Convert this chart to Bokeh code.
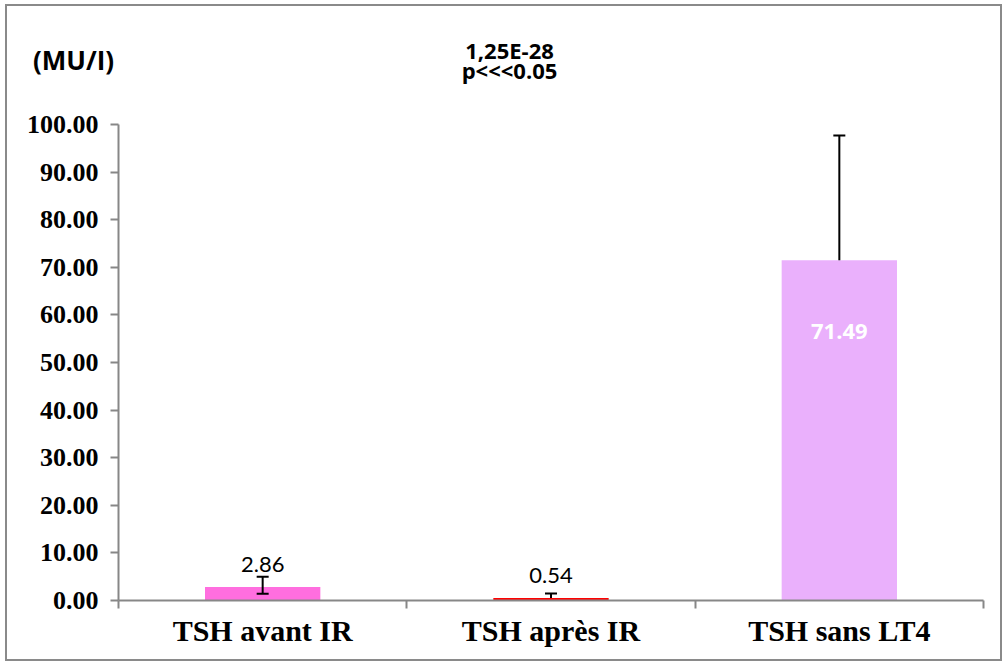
from bokeh.plotting import figure
from bokeh.layouts import column
from bokeh.models import Range1d, FixedTicker, ColumnDataSource, NumeralTickFormatter
from bokeh.core.properties import value
from bokeh.embed import file_html
from bokeh.resources import INLINE

# TSH levels (MU/l) for the three groups
categories = ["TSH avant IR", "TSH après IR", "TSH sans LT4"]
means = [2.86, 0.54, 71.49]
sd_plus = [2.14, 0.91, 26.2]
sd_minus = [1.46, 0.0, 0.0]
bar_colors = ["#FF6EDF", "#FF0000", "#EAB0FC"]
y_ticks = [0, 10, 20, 30, 40, 50, 60, 70, 80, 90, 100]
p_value_text = "1,25E-28"
signif_text = "p<<<0.05"
unit_text = "(MU/I)"

x_pos = [i + 0.5 for i in range(len(categories))]
upper = [m + s for m, s in zip(means, sd_plus)]
lower = [m - s for m, s in zip(means, sd_minus)]

src = ColumnDataSource(dict(
    x=x_pos, top=means, color=bar_colors, upper=upper, lower=lower,
    label=[f"{m:.2f}" for m in means],
))

AXIS_GREY = "#878787"
WIDTH = 993
HEADER_H = 100

# header strip holding the unit and the significance note (pixel coordinates, y down)
head = figure(
    width=WIDTH, height=HEADER_H, x_range=Range1d(0, WIDTH), y_range=Range1d(HEADER_H, 0),
    x_axis_type=None, y_axis_type=None, min_border=0,
    output_backend="svg", toolbar_location=None,
    background_fill_color="white", border_fill_color="white",
)
head.frame_align = False
head.outline_line_color = None
head.grid.visible = False
head.text(x=[66], y=[53], text=[unit_text], text_align="center", text_baseline="alphabetic",
          text_font=value("Open Sans"), text_font_style="bold", text_font_size="26px",
          text_color="black")
head.text(x=[502, 502], y=[43, 63], text=[p_value_text, signif_text], text_align="center",
          text_baseline="alphabetic", text_font=value("Open Sans"), text_font_style="bold",
          text_font_size="22px", text_color="black")

p = figure(
    frame_width=865, frame_height=476,
    min_border_left=111, min_border_right=17, min_border_top=18, min_border_bottom=59,
    x_range=Range1d(0, len(categories)), y_range=Range1d(0, 100),
    output_backend="svg", toolbar_location=None,
    background_fill_color="white", border_fill_color="white",
)
p.frame_align = False
p.outline_line_color = None
p.grid.visible = False

# bars
p.vbar(x="x", top="top", width=0.4, color="color", line_color=None, source=src)

# error bars: stems and caps
p.segment(x0="x", y0="lower", x1="x", y1="upper", line_color="black", line_width=2, source=src)
p.scatter(x="x", y="upper", marker="dash", size=12, line_color="black", line_width=2, source=src)
low_idx = [i for i, s in enumerate(sd_minus) if s > 0]
p.scatter(x=[x_pos[i] for i in low_idx], y=[lower[i] for i in low_idx], marker="dash",
          size=12, line_color="black", line_width=2)

# value labels: first two above the bars, the tall one inside in white
out_src = ColumnDataSource(dict(x=x_pos[:2], y=means[:2], label=src.data["label"][:2]))
p.text(x="x", y="y", text="label", source=out_src, text_align="center",
       text_baseline="alphabetic", y_offset=-22, text_font=value("Lato"),
       text_font_size="22px", text_color="black")
p.text(x=[x_pos[2]], y=[means[2]], text=[src.data["label"][2]], text_align="center",
       text_baseline="alphabetic", y_offset=71, text_font=value("Open Sans"),
       text_font_size="22px", text_font_style="bold", text_color="white")

# y axis
ya = p.yaxis[0]
ya.ticker = FixedTicker(ticks=y_ticks)
ya.formatter = NumeralTickFormatter(format="0.00")
ya.axis_line_color = AXIS_GREY
ya.axis_line_width = 2
ya.major_tick_line_color = AXIS_GREY
ya.major_tick_line_width = 2
ya.major_tick_out = 8
ya.major_tick_in = 0
ya.minor_tick_line_color = None
ya.major_label_text_font = "Liberation Serif"
ya.major_label_text_font_style = "bold"
ya.major_label_text_font_size = "26px"
ya.major_label_text_color = "black"
ya.major_label_standoff = 12

# x axis: labels centred on the groups, ticks on the group boundaries
xa = p.xaxis[0]
xa.ticker = FixedTicker(ticks=x_pos, minor_ticks=list(range(len(categories) + 1)))
xa.major_label_overrides = {x: c for x, c in zip(x_pos, categories)}
xa.axis_line_color = AXIS_GREY
xa.axis_line_width = 2
xa.major_tick_line_color = None
xa.major_tick_out = 8
xa.major_tick_in = 0
xa.minor_tick_line_color = AXIS_GREY
xa.minor_tick_line_width = 2
xa.minor_tick_out = 8
xa.minor_tick_in = 0
xa.major_label_text_font = "Liberation Serif"
xa.major_label_text_font_style = "bold"
xa.major_label_text_font_size = "30px"
xa.major_label_text_color = "black"
xa.major_label_standoff = 5

layout = column(head, p, spacing=0)
layout.styles = {"border": "2px solid #8a8a8a", "margin": "4px 0 0 5px"}

open("out.html", "w").write(file_html(layout, INLINE))
